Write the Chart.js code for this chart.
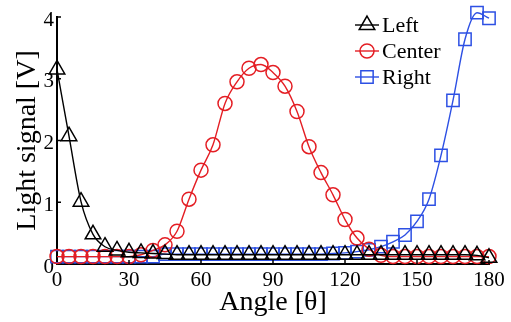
<!DOCTYPE html>
<html>
<head>
<meta charset="utf-8">
<script src="https://cdn.jsdelivr.net/npm/chart.js@4.4.1/dist/chart.umd.min.js"></script>
<style>
    html, body { margin: 0; padding: 0; background: #fff; }
</style>
</head>
<body>
<canvas id="myChart" width="511" height="322"></canvas>
<script>
const angles = [0, 5, 10, 15, 20, 25, 30, 35, 40, 45, 50, 55, 60, 65, 70, 75, 80, 85, 90,
    95, 100, 105, 110, 115, 120, 125, 130, 135, 140, 145, 150, 155, 160, 165, 170, 175, 180];

const leftValues = [3.15, 2.07, 1.01, 0.48, 0.28, 0.22, 0.19, 0.18, 0.17, 0.16,
    0.15, 0.15, 0.15, 0.15, 0.15, 0.15, 0.15, 0.15, 0.15, 0.15, 0.15, 0.15, 0.15,
    0.15, 0.15, 0.15, 0.15, 0.15, 0.15, 0.15, 0.15, 0.15, 0.15, 0.15, 0.15, 0.14, 0.10];

const centerValues = [0.12, 0.12, 0.12, 0.12, 0.12, 0.12, 0.12,
    0.15, 0.22, 0.31, 0.53, 1.05, 1.52, 1.93, 2.6, 2.95, 3.17, 3.23, 3.1, 2.88,
    2.47, 1.9, 1.48, 1.12, 0.72, 0.42, 0.24, 0.14,
    0.12, 0.12, 0.12, 0.12, 0.12, 0.12, 0.12, 0.12, 0.12];

const rightValues = [0.12, 0.12, 0.12, 0.12, 0.12, 0.12, 0.12, 0.12, 0.12,
    0.16, 0.16, 0.16, 0.16, 0.16, 0.16, 0.16, 0.16, 0.16, 0.16, 0.16, 0.16, 0.16, 0.16,
    0.17, 0.18, 0.2, 0.23, 0.28, 0.36, 0.47, 0.69, 1.05, 1.76, 2.65, 3.64, 4.07, 3.98];

const seriesNames = ['Left', 'Center', 'Right'];
const xTicks = [0, 30, 60, 90, 120, 150, 180];
const yTicks = [0, 1, 2, 3, 4];

const serif = '"Liberation Serif", "Times New Roman", serif';


function toPoints(values) {
    return values.map((v, i) => ({ x: angles[i], y: v }));
}


function makeDataset(label, values, color, pointStyle, radius) {
    return {
        label: label,
        data: toPoints(values),
        borderColor: color,
        borderWidth: 1.4,
        backgroundColor: 'rgba(0,0,0,0)',
        pointStyle: pointStyle,
        pointRadius: radius,
        pointBorderWidth: 1.5,
        pointBorderColor: color,
        pointBackgroundColor: 'rgba(0,0,0,0)',
        cubicInterpolationMode: 'monotone',
        clip: false
    };
}

/*Inward tick marks*/

const innerTicks = {
    id: 'innerTicks',
    afterDraw(chart) {
        const ctx = chart.ctx;
        const { left, bottom } = chart.chartArea;
        ctx.save();
        ctx.strokeStyle = '#000';
        ctx.lineWidth = 1.5;
        ctx.beginPath();
        for (let v of yTicks.slice(1)) {
            const y = chart.scales.y.getPixelForValue(v);
            ctx.moveTo(left, y);
            ctx.lineTo(left + 4, y);
        }
        for (let v of xTicks.slice(1)) {
            const x = chart.scales.x.getPixelForValue(v);
            ctx.moveTo(x, bottom);
            ctx.lineTo(x, bottom - 4);
        }
        ctx.stroke();
        ctx.restore();
    }
};

/*Legend drawn inside the plot*/

const insideLegend = {
    id: 'insideLegend',
    afterDatasetsDraw(chart) {
        const ctx = chart.ctx;
        ctx.save();
        chart.data.datasets.forEach((ds, i) => {
            const y = 25 + i * 26;
            ctx.strokeStyle = ds.borderColor;
            ctx.lineWidth = ds.borderWidth;
            ctx.beginPath();
            ctx.moveTo(355, y);
            ctx.lineTo(379, y);
            ctx.stroke();
            ctx.fillStyle = 'rgba(0,0,0,0)';
            ctx.lineWidth = ds.pointBorderWidth;
            Chart.helpers.drawPoint(ctx, {
                pointStyle: ds.pointStyle,
                radius: ds.pointRadius,
                borderWidth: ds.pointBorderWidth,
                rotation: 0
            }, 367, y);
            ctx.fillStyle = '#000';
            ctx.font = '22px ' + serif;
            ctx.textBaseline = 'middle';
            ctx.textAlign = 'left';
            ctx.fillText(ds.label, 382, y + 1);
        });
        ctx.restore();
    }
};


const chart = new Chart(document.getElementById('myChart'), {
    type: 'line',
    data: {
        datasets: [
            makeDataset(seriesNames[0], leftValues, '#000000', 'triangle', 9),
            makeDataset(seriesNames[1], centerValues, 'rgb(228, 30, 36)', 'circle', 7),
            makeDataset(seriesNames[2], rightValues, 'rgb(45, 80, 228)', 'rect', 8.7)
        ]
    },
    options: {
        responsive: false,
        animation: false,
        layout: { padding: { top: 17, right: 22, left: 0, bottom: 0 } },
        plugins: {
            legend: { display: false },
            tooltip: { enabled: false }
        },
        scales: {
            x: {
                type: 'linear',
                min: 0,
                max: 180,
                afterBuildTicks: (scale) => { scale.ticks = xTicks.map(v => ({ value: v })); },
                afterFit: (scale) => { scale.height = 58; },
                grid: { display: false, drawTicks: false },
                border: { display: true, color: '#000', width: 2 },
                ticks: {
                    color: '#000',
                    padding: 4,
                    maxRotation: 0,
                    font: { family: serif, size: 21 }
                },
                title: {
                    display: true,
                    text: 'Angle [θ]',
                    color: '#000',
                    padding: { top: 0, bottom: 3 },
                    font: { family: serif, size: 28 }
                }
            },
            y: {
                min: 0,
                max: 4,
                afterBuildTicks: (scale) => { scale.ticks = yTicks.map(v => ({ value: v })); },
                afterFit: (scale) => { scale.width = 57; },
                grid: { display: false, drawTicks: false },
                border: { display: true, color: '#000', width: 2 },
                ticks: {
                    color: '#000',
                    padding: 3,
                    labelOffset: 3,
                    font: { family: serif, size: 21 }
                },
                title: {
                    display: true,
                    text: 'Light signal [V]',
                    color: '#000',
                    padding: { top: 11, bottom: 0 },
                    font: { family: serif, size: 28 }
                }
            }
        }
    },
    plugins: [insideLegend, innerTicks]
});
</script>
</body>
</html>
